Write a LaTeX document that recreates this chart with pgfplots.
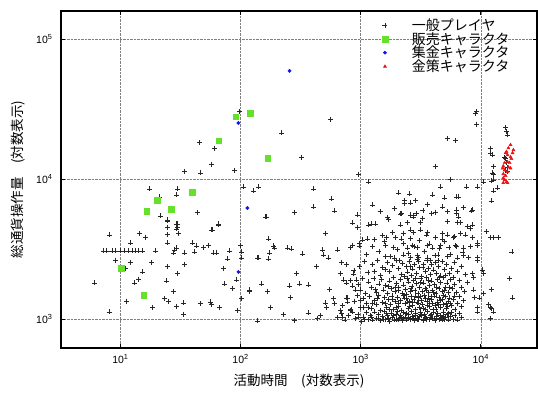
\documentclass[border=0pt]{standalone}
\usepackage{pgfplots}
\pgfplotsset{compat=1.18}
\usepackage{fontspec}
\setmainfont{Liberation Sans}
\newfontfamily\cjk{Noto Sans CJK JP}
\definecolor{sellgreen}{RGB}{100,225,40}
\definecolor{colblue}{RGB}{20,20,230}
\definecolor{stratred}{RGB}{235,20,20}
\begin{document}
\begin{tikzpicture}
\begin{axis}[name=ax,
  xmode=log, ymode=log,
  width=476pt, height=337pt, scale only axis,
  xmin=3.2, xmax=29400, ymin=624, ymax=159000,
  xtick={10,100,1000,10000},
  xticklabels={10\textsuperscript{1},10\textsuperscript{2},10\textsuperscript{3},10\textsuperscript{4}},
  ytick={1000,10000,100000},
  yticklabels={10\textsuperscript{3},10\textsuperscript{4},10\textsuperscript{5}},
  xminorticks=false, yminorticks=false,
  tick align=inside, major tick length=4pt,
  grid=major,
  major grid style={densely dotted, black!50, line width=0.5pt},
  axis line style={line width=1.1pt},
  tick style={black, line width=0.8pt},
  ticklabel style={font=\fontsize{10.5}{12}\selectfont},
  xticklabel style={yshift=-3pt},
  yticklabel style={xshift=-5pt},
  xlabel={\cjk 活動時間　(対数表示)},
  ylabel={\cjk 総通貨操作量　(対数表示)},
  label style={font=\fontsize{13.5}{14}\selectfont},
  xlabel style={at={(axis description cs:0.5,-0.098)}, anchor=center},
  ylabel style={at={(axis description cs:-0.09,0.5)}, anchor=center},
  legend style={at={(0.668,0.99)}, anchor=north west, draw=none, fill=none,
    font=\cjk\fontsize{14}{15}\selectfont, row sep=-3.5pt},
  legend cell align=left,
  legend image code/.code={\path[draw=none,fill=none] (0pt,0pt) (25pt,0pt); \draw[#1] plot coordinates {(0pt,0pt)};},
]
% general players
\addplot[only marks, mark=+, color=black!85, mark size=2.5pt, mark options={line width=0.75pt}] coordinates {
(8.1,4000)(14.4,4130)(16.2,3870)(12.1,3510)
(7.2,3080)(7.7,3080)(8.5,3080)(9.1,3080)(10,3080)(10.8,3080)(11.7,3080)(12.6,3080)(13.3,3080)(14.1,3080)(15.2,3080)(19.6,3080)
(9.1,2650)(11,2320)(12.1,2560)(15.2,2180)(14.1,1940)(13.1,1820)(6.1,1820)(11.2,1350)(8.1,1130)(18.1,2560)(18.5,1210)
(24.6,5120)(29.3,4800)(29.3,4420)(30.4,4130)(24.6,4060)(24.6,3510)(28.2,3130)(27.7,2980)(34.1,2980)(29.3,3230)(39.8,3510)(43,3340)(49.2,3280)(54.1,3390)(41.4,3030)(59.6,2980)(63.1,2980)
(34.1,2480)(24.6,2370)(29.9,2140)(24.2,1880)(27.7,1570)(23.3,1400)(25.1,1350)(29.3,1240)(33.5,1310)(33.5,1090)(46.4,1290)(56.2,1330)(57.3,1270)(66.8,1210)
(81,3080)(78,2700)(72.1,2320)(100,3390)(102,3030)(102,2740)(92.6,1910)(73.6,1790)(85.8,1670)(102,1400)(94.4,1160)(119,1590)(57.3,4350)(65.6,4720)(139,973)
(45.5,18200)(60.7,16700)(57.3,12700)(34.1,11300)(46.4,11100)(89.1,11500)(98,30300)(106,8810)(17.4,8530)(29.9,8530)(29.3,7730)(21.1,7480)(43.8,5830)(21.5,5470)(24.6,5040)(29.9,4800)(29.9,4560)(24.6,4560)(65.6,4800)(58.5,4350)
(562,26600)(220,21400)(322,14400)(962,10900)(128,8260)(141,8810)(406,8530)(573,7230)(607,5940)(406,6340)(282,5830)(162,5380)(944,5560)(1170,9570)(1260,6550)(2070,7980)(2560,7850)(2330,7110)(2870,7110)(2610,6770)(3980,7730)(4640,8810)(5010,7350)(6310,7470)(6560,7470)(7640,8810)(9440,8810)(9270,30300)(9270,24800)(5310,19700)(6190,18800)(4220,12400)(5620,10000)(4820,6340)(6310,6040)(6310,5740)(6560,5380)(3910,5740)(4220,5830)(2610,5560)(2770,5380)(1680,5300)(2150,5650)(8410,5940)
(165,5380)(858,4880)(944,4560)(1170,4720)(511,4130)(171,3750)(188,3340)(192,3230)(247,3230)(266,3180)(175,2980)(171,2700)(139,2740)(141,2740)(329,2930)(482,3130)(492,2880)(541,2740)(643,3130)(826,3280)(858,3390)(982,3340)(695,2560)(430,2370)(293,2140)(681,2140)(119,1620)(150,1790)(168,1590)(256,1730)(261,1440)(310,1790)(369,1760)(178,1220)(228,1090)(282,988)(369,1110)(438,1020)(464,1060)(511,1310)(521,1210)(552,1640)(596,1400)(607,1290)(681,1160)(708,1040)(780,1420)(780,1330)(826,1160)(722,1910)(764,1820)(875,2110)(927,1910)(858,1730)(1000,1620)(1000,1370)(962,1040)(1060,1220)
(9080,29700)(12100,16700)(12100,15400)(12500,14900)(12800,12400)(12500,11100)(12800,10900)(12800,9890)(12300,9730)(10500,9570)(13800,8670)(12800,8260)(12300,7000)(8530,6040)(8530,4720)(11100,4210)(12100,3870)(12800,3870)(14100,3870)(18200,3030)(9440,3510)(9440,2650)(10300,2250)(10500,2140)(8530,2140)(8750,2000)(17400,1970)(12300,1640)(10500,1540)(18400,1420)(8750,1620)(8910,1440)(9810,1420)(9440,1220)(11600,1270)(12100,1220)(12300,1190)(12800,1130)(12100,1020)(9440,1130)
(16100,23300)(16400,21800)(16700,20700)(15800,14400)(16100,14000)(16400,13100)(16700,12200)(16100,11600)(16700,11300)
(1700,5200)(1230,4800)(1330,4800)(2150,4720)(2450,4900)(3160,4900)(5310,5000)(6400,4950)(6810,4900)(7700,4600)(8250,4450)(2200,5740)(2610,5480)(2770,5480)(3280,5220)(1040,3690)(1140,3750)(1520,3950)(1640,3870)(1960,3870)(2280,4130)(2610,4350)(2770,4200)(3160,4350)(3580,4200)(4220,3820)(4820,4130)(5310,4000)(5950,3870)(6810,4130)(7500,4000)(8530,3870)
(1610,3390)(1890,3280)(2450,3230)(2710,3390)(2980,3280)(3580,3390)(3930,3230)(4640,3350)(5430,3280)(6190,3390)(7220,3230)(8250,3300)(9440,3390)
(1610,2800)(1920,2740)(2280,2880)(2610,2780)(2980,2850)(3580,2740)(4400,2880)(5310,2800)(6400,2740)(7220,2850)(9440,2780)
(1900,6200)(2300,6700)(3300,6000)(3600,6600)(5300,5900)(7200,6300)(2900,5700)(1450,5900)
(980,3500)(1120,2900)(1260,3300)(1420,3050)(1580,3600)(1760,2800)(2010,3150)(2270,3500)(2520,2950)(2780,3300)(3050,2750)(3400,3050)(3750,3450)(4150,2850)(4550,3200)(5000,3600)(5600,2900)(6300,3300)(7100,3000)(7900,2780)(1300,3700)(2200,3750)(3100,3650)(4800,3750)(6000,3900)(2600,3800)(3550,4000)(1850,4200)
(1080,2600)(1250,2480)(1390,2620)(1530,2350)(1680,2550)(1750,2210)(1850,2430)(1980,2650)(2050,2300)(2180,2100)(2240,2520)(2390,2380)(2460,2180)(2550,2600)(2640,2050)(2720,2290)(2810,2460)(2900,2140)(3020,2580)(3100,2330)(3230,2020)(3350,2450)(3440,2200)(3560,2620)(3680,2310)(3790,2090)(3900,2480)(4050,2250)(4180,2550)(4300,2120)(4470,2380)(4600,2040)(4790,2600)(4950,2270)(5200,2450)(5450,2130)(5700,2320)(6000,2560)(6400,2190)(6900,2400)(7400,2080)(1150,2150)(1450,2050)(1620,2280)(2120,2640)(2580,2400)(2950,2680)(3300,2330)(3800,2640)(4400,2640)(5100,2060)(5900,2000)(2330,2010)(1310,2200)(970,2380)(760,2450)(880,2230)
(820,1900)(900,1620)(960,1780)(1030,1950)(1100,1540)(1170,1850)(1230,1680)(1290,1970)(1360,1560)(1420,1790)(1490,1920)(1550,1620)(1610,1750)(1680,1530)(1740,1880)(1800,1660)(1870,1990)(1930,1580)(2000,1810)(2070,1700)(2150,1920)(2210,1540)(2290,1760)(2360,1640)(2440,1970)(2520,1850)(2590,1580)(2670,1720)(2750,1900)(2830,1610)(2920,1800)(3000,1530)(3090,1690)(3180,1950)(3260,1580)(3360,1820)(3450,1660)(3550,1990)(3660,1560)(3760,1740)(3870,1880)(3980,1600)(4100,1770)(4230,1520)(4350,1920)(4480,1650)(4620,1840)(4760,1570)(4910,1980)(5060,1700)(5230,1820)(5400,1550)(5600,1930)(5820,1650)(6050,1780)(6300,1560)(6600,1900)(6950,1690)(7300,1580)(7800,1840)(1950,1690)(2400,1510)(2850,1960)(3120,1830)(3520,1620)(4050,1550)(4520,1990)(5000,1600)(2620,1650)(1710,1710)(1320,1630)(2080,1600)(3680,1900)(4300,1700)(5500,1680)
(700,1250)(760,1420)(830,1180)(890,1350)(940,1480)(1000,1220)(1060,1400)(1120,1300)(1180,1460)(1240,1190)(1300,1370)(1350,1270)(1410,1480)(1470,1160)(1520,1320)(1580,1430)(1640,1220)(1700,1390)(1760,1280)(1820,1470)(1890,1180)(1950,1340)(2010,1440)(2080,1240)(2140,1370)(2200,1160)(2270,1480)(2340,1300)(2410,1410)(2480,1200)(2550,1350)(2620,1460)(2700,1250)(2780,1390)(2860,1170)(2940,1320)(3020,1440)(3100,1210)(3190,1370)(3280,1280)(3370,1490)(3460,1180)(3560,1340)(3660,1420)(3770,1230)(3880,1380)(3990,1290)(4110,1470)(4230,1170)(4360,1330)(4490,1440)(4620,1220)(4760,1380)(4900,1270)(5050,1450)(5200,1190)(5360,1340)(5530,1420)(5700,1250)(5900,1390)(6100,1170)(6350,1300)(6600,1460)(6900,1240)(7200,1360)(1150,1210)(1620,1300)(1980,1210)(2450,1330)(2880,1470)(3300,1190)(3720,1310)(4180,1250)(4600,1360)(5150,1300)(1380,1400)(1850,1390)(2300,1420)(2720,1330)(3150,1460)(3580,1260)(4000,1170)(4450,1270)(4850,1480)(5600,1290)(2060,1300)(2560,1240)(3050,1310)(3450,1400)(3900,1450)(1720,1180)(1250,1290)(6000,1470)(5300,1230)
(640,1030)(690,1100)(740,990)(790,1060)(850,1130)(900,1010)(950,1080)(1010,970)(1060,1040)(1110,1120)(1160,1000)(1210,1070)(1260,990)(1310,1130)(1360,1020)(1410,1090)(1460,980)(1510,1050)(1570,1140)(1620,1000)(1680,1070)(1730,970)(1790,1110)(1850,1030)(1910,990)(1970,1080)(2030,1140)(2090,1010)(2160,1060)(2220,975)(2290,1120)(2350,1040)(2420,990)(2500,1090)(2570,1010)(2640,1140)(2720,1050)(2800,980)(2880,1100)(2960,1020)(3040,1000)(3130,1130)(3220,1060)(3310,980)(3400,1080)(3500,1020)(3600,1140)(3700,995)(3810,1070)(3920,1010)(4030,1120)(4150,980)(4270,1050)(4390,1100)(4520,1000)(4650,1070)(4790,990)(4930,1130)(5080,1030)(5230,1080)(5390,990)(5550,1050)(5720,1120)(5900,1000)(6100,1070)(6350,990)(6600,1100)(6900,1030)(1080,1000)(1400,1010)(1700,1010)(2000,1000)(2250,1010)(2600,995)(2950,1000)(3350,1005)(3750,1000)(4100,1015)(4600,1010)(5000,1000)(1240,1040)(1540,1000)(1880,1060)(2180,1030)(2480,1040)(2760,1010)(3080,1050)(3450,1040)(3850,1030)(4300,1010)(4850,1050)(1640,1100)(2400,1100)(3150,1080)(3900,1090)(5400,1100)(2050,990)(2850,1060)(3550,1000)(4700,1030)
};
\addlegendentry{一般プレイヤ}
% sellers
\addplot[only marks, mark=square*, color=sellgreen, mark size=2.8pt] coordinates {
(10.2,2320)(15.6,1490)(16.5,5930)(20.3,7110)(26.6,6140)(39.8,8110)(65.6,18800)(90.9,27900)(121,29700)(168,14200)
};
\addlegendentry{販売キャラクタ}
% collectors
\addplot[only marks, mark=*, color=colblue, mark size=1.7pt] coordinates {
(96,25200)(256,59400)(114,6240)(96,2180)
};
\addlegendentry{集金キャラクタ}
% gold farmers
\addplot[only marks, mark=triangle*, color=stratred, mark size=1.8pt] coordinates {
(17700,17600)(17000,16700)(16400,15700)(16100,15400)(16700,14900)(17700,14400)(18000,14000)(16700,13300)(15800,13100)(15400,12400)(15200,12000)(15800,11600)(16700,11300)(15400,10900)(16100,10600)(15400,10200)(15800,9890)(16400,9570)(15400,9420)(16700,9420)(18400,15400)(18700,16200)(17400,13100)(17000,12200)(17700,12000)
};
\addlegendentry{金策キャラクタ}
\end{axis}
\pgfresetboundingbox
\path[use as bounding box] ([xshift=-61pt,yshift=-44pt]ax.south west) rectangle ([xshift=1pt,yshift=11pt]ax.north east);
\end{tikzpicture}
\end{document}
